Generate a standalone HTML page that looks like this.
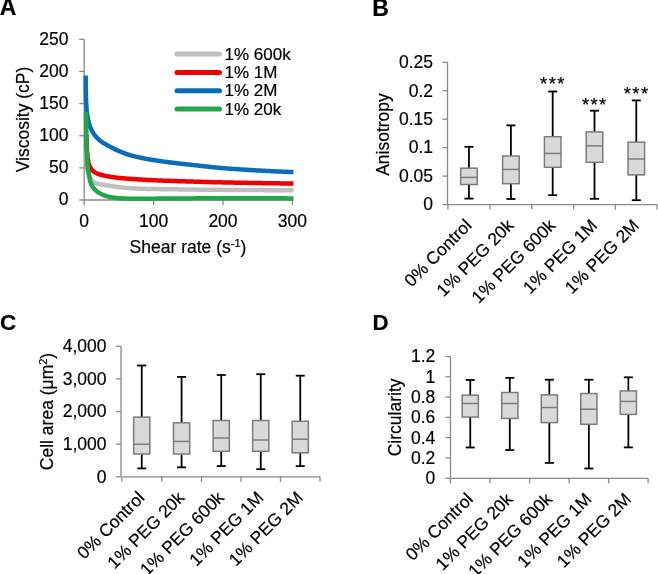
<!DOCTYPE html>
<html><head><meta charset="utf-8"><style>
html,body{margin:0;padding:0;background:#fff;}
svg{display:block;will-change:transform;}
text{font-family:"Liberation Sans",sans-serif;fill:#000;stroke:#000;stroke-width:0.2px;}
</style></head><body>
<svg width="658" height="574" viewBox="0 0 658 574">
<text x="-0.3" y="15.3" text-anchor="start" font-size="23" font-weight="bold" >A</text>
<text x="372.3" y="15.5" text-anchor="start" font-size="23" font-weight="bold" >B</text>
<text x="0" y="330.2" text-anchor="start" font-size="22.5" font-weight="bold" >C</text>
<text x="372.6" y="329.9" text-anchor="start" font-size="22.3" font-weight="bold" >D</text>
<line x1="84.2" y1="39.3" x2="84.2" y2="200.0" stroke="#898989" stroke-width="1.3" />
<line x1="79.2" y1="200.0" x2="84.2" y2="200.0" stroke="#898989" stroke-width="1.3" />
<text x="68.5" y="205.2" text-anchor="end" font-size="17.5" >0</text>
<line x1="79.2" y1="167.86" x2="84.2" y2="167.86" stroke="#898989" stroke-width="1.3" />
<text x="68.5" y="173.06" text-anchor="end" font-size="17.5" >50</text>
<line x1="79.2" y1="135.72" x2="84.2" y2="135.72" stroke="#898989" stroke-width="1.3" />
<text x="68.5" y="140.92" text-anchor="end" font-size="17.5" >100</text>
<line x1="79.2" y1="103.58" x2="84.2" y2="103.58" stroke="#898989" stroke-width="1.3" />
<text x="68.5" y="108.78" text-anchor="end" font-size="17.5" >150</text>
<line x1="79.2" y1="71.44" x2="84.2" y2="71.44" stroke="#898989" stroke-width="1.3" />
<text x="68.5" y="76.64" text-anchor="end" font-size="17.5" >200</text>
<line x1="79.2" y1="39.30000000000001" x2="84.2" y2="39.30000000000001" stroke="#898989" stroke-width="1.3" />
<text x="68.5" y="44.500000000000014" text-anchor="end" font-size="17.5" >250</text>
<line x1="84.2" y1="200.0" x2="292.4" y2="200.0" stroke="#898989" stroke-width="1.3" />
<line x1="84.2" y1="200.0" x2="84.2" y2="205.0" stroke="#898989" stroke-width="1.3" />
<text x="84.2" y="226.5" text-anchor="middle" font-size="17.5" >0</text>
<line x1="153.6" y1="200.0" x2="153.6" y2="205.0" stroke="#898989" stroke-width="1.3" />
<text x="153.6" y="226.5" text-anchor="middle" font-size="17.5" >100</text>
<line x1="223.0" y1="200.0" x2="223.0" y2="205.0" stroke="#898989" stroke-width="1.3" />
<text x="223.0" y="226.5" text-anchor="middle" font-size="17.5" >200</text>
<line x1="292.4" y1="200.0" x2="292.4" y2="205.0" stroke="#898989" stroke-width="1.3" />
<text x="292.4" y="226.5" text-anchor="middle" font-size="17.5" >300</text>
<text x="188" y="252.5" text-anchor="middle" font-size="17.5" >Shear rate (s<tspan dy="-6" font-size="11">-1</tspan><tspan dy="6">)</tspan></text>
<text x="0" y="0" text-anchor="middle" font-size="17.5" transform="translate(29.3,119.5) rotate(-90)">Viscosity (cP)</text>
<path d="M86.50,150.00 L86.50,150.91 L86.51,151.82 L86.53,152.73 L86.55,153.63 L86.58,154.54 L86.61,155.44 L86.65,156.35 L86.70,157.25 L86.74,158.16 L86.79,159.06 L86.85,159.96 L86.91,160.86 L86.97,161.76 L87.03,162.66 L87.09,163.56 L87.16,164.46 L87.23,165.36 L87.31,166.26 L87.41,167.17 L87.52,168.07 L87.64,168.98 L87.79,169.88 L87.94,170.77 L88.11,171.66 L88.29,172.54 L88.48,173.41 L88.70,174.28 L88.96,175.17 L89.27,176.05 L89.62,176.92 L90.00,177.76 L90.42,178.56 L90.87,179.30 L91.36,180.00 L91.97,180.70 L92.65,181.37 L93.38,181.97 L94.15,182.48 L94.91,182.85 L95.70,183.14 L96.52,183.40 L97.38,183.63 L98.26,183.84 L99.15,184.03 L100.07,184.21 L100.99,184.37 L101.91,184.53 L102.83,184.68 L103.75,184.84 L104.65,184.99 L105.54,185.15 L106.43,185.31 L107.32,185.46 L108.21,185.61 L109.10,185.76 L110.00,185.91 L110.89,186.06 L111.78,186.20 L112.68,186.34 L113.58,186.47 L114.47,186.60 L115.37,186.73 L116.27,186.85 L117.16,186.97 L118.06,187.08 L118.96,187.19 L119.86,187.29 L120.76,187.38 L121.66,187.47 L122.56,187.55 L123.46,187.63 L124.36,187.71 L125.26,187.79 L126.16,187.87 L127.06,187.94 L127.96,188.01 L128.87,188.08 L129.77,188.15 L130.67,188.22 L131.58,188.28 L132.48,188.34 L133.38,188.39 L134.29,188.45 L135.19,188.50 L136.09,188.54 L137.00,188.59 L137.90,188.63 L138.81,188.66 L139.71,188.69 L140.61,188.72 L141.52,188.74 L142.42,188.77 L143.32,188.79 L144.23,188.82 L145.13,188.84 L146.04,188.86 L146.94,188.88 L147.84,188.91 L148.75,188.93 L149.65,188.94 L150.56,188.96 L151.46,188.98 L152.37,189.00 L153.27,189.02 L154.18,189.03 L155.08,189.05 L155.98,189.07 L156.89,189.08 L157.79,189.10 L158.70,189.11 L159.60,189.13 L160.51,189.14 L161.41,189.15 L162.32,189.17 L163.22,189.18 L164.13,189.19 L165.03,189.20 L165.94,189.22 L166.84,189.23 L167.75,189.24 L168.65,189.25 L169.56,189.26 L170.46,189.28 L171.37,189.29 L172.27,189.30 L173.18,189.31 L174.08,189.32 L174.99,189.33 L175.89,189.35 L176.80,189.36 L177.70,189.37 L178.61,189.38 L179.51,189.39 L180.42,189.41 L181.32,189.42 L182.22,189.43 L183.13,189.44 L184.03,189.45 L184.94,189.47 L185.84,189.48 L186.75,189.49 L187.65,189.50 L188.56,189.52 L189.46,189.53 L190.37,189.54 L191.27,189.55 L192.18,189.56 L193.08,189.57 L193.98,189.59 L194.89,189.60 L195.79,189.61 L196.70,189.62 L197.60,189.63 L198.51,189.64 L199.41,189.65 L200.32,189.66 L201.22,189.68 L202.13,189.69 L203.03,189.70 L203.94,189.71 L204.84,189.72 L205.75,189.73 L206.65,189.74 L207.55,189.75 L208.46,189.76 L209.36,189.77 L210.27,189.78 L211.17,189.78 L212.08,189.79 L212.98,189.80 L213.89,189.81 L214.79,189.82 L215.70,189.83 L216.60,189.84 L217.51,189.84 L218.41,189.85 L219.32,189.86 L220.22,189.87 L221.12,189.87 L222.03,189.88 L222.93,189.89 L223.84,189.89 L224.74,189.90 L225.65,189.90 L226.55,189.91 L227.46,189.92 L228.36,189.92 L229.27,189.93 L230.17,189.93 L231.08,189.94 L231.98,189.94 L232.89,189.95 L233.79,189.96 L234.69,189.96 L235.60,189.97 L236.50,189.97 L237.41,189.98 L238.31,189.98 L239.22,189.99 L240.12,190.00 L241.03,190.00 L241.93,190.01 L242.84,190.01 L243.74,190.02 L244.65,190.02 L245.55,190.03 L246.46,190.03 L247.36,190.04 L248.26,190.04 L249.17,190.05 L250.07,190.05 L250.98,190.06 L251.88,190.06 L252.79,190.07 L253.69,190.07 L254.60,190.08 L255.50,190.08 L256.41,190.09 L257.31,190.09 L258.22,190.10 L259.12,190.10 L260.03,190.11 L260.93,190.11 L261.84,190.12 L262.74,190.12 L263.64,190.12 L264.55,190.13 L265.45,190.13 L266.36,190.13 L267.26,190.14 L268.17,190.14 L269.07,190.15 L269.98,190.15 L270.88,190.15 L271.79,190.16 L272.69,190.16 L273.60,190.16 L274.50,190.17 L275.41,190.17 L276.31,190.17 L277.22,190.17 L278.12,190.18 L279.02,190.18 L279.93,190.18 L280.83,190.18 L281.74,190.18 L282.64,190.19 L283.55,190.19 L284.45,190.19 L285.36,190.19 L286.26,190.19 L287.17,190.19 L288.07,190.20 L288.98,190.20 L289.88,190.20 L290.79,190.20 L291.69,190.20 L292.60,190.20 L293.50,190.20" fill="none" stroke="#bfbfbf" stroke-width="4.5" stroke-linejoin="round"/>
<path d="M86.50,135.00 L86.50,135.93 L86.51,136.85 L86.52,137.77 L86.54,138.70 L86.56,139.62 L86.59,140.55 L86.62,141.47 L86.65,142.39 L86.68,143.31 L86.72,144.24 L86.76,145.16 L86.80,146.08 L86.85,147.00 L86.89,147.92 L86.94,148.84 L86.99,149.77 L87.04,150.69 L87.09,151.61 L87.16,152.53 L87.23,153.46 L87.31,154.38 L87.40,155.30 L87.50,156.22 L87.61,157.14 L87.72,158.06 L87.85,158.97 L87.98,159.87 L88.13,160.78 L88.33,161.69 L88.55,162.59 L88.81,163.49 L89.09,164.37 L89.39,165.24 L89.71,166.09 L90.08,166.95 L90.50,167.80 L90.97,168.62 L91.48,169.38 L92.03,170.07 L92.67,170.72 L93.39,171.33 L94.16,171.89 L94.94,172.39 L95.73,172.83 L96.56,173.23 L97.41,173.59 L98.29,173.92 L99.17,174.23 L100.05,174.52 L100.93,174.78 L101.82,175.03 L102.72,175.25 L103.62,175.47 L104.52,175.66 L105.42,175.85 L106.33,176.03 L107.23,176.20 L108.14,176.37 L109.05,176.54 L109.96,176.69 L110.88,176.85 L111.79,176.99 L112.70,177.13 L113.62,177.27 L114.53,177.39 L115.45,177.51 L116.36,177.63 L117.28,177.73 L118.19,177.83 L119.11,177.93 L120.03,178.02 L120.95,178.11 L121.87,178.20 L122.79,178.28 L123.71,178.36 L124.63,178.44 L125.55,178.52 L126.47,178.59 L127.39,178.67 L128.31,178.74 L129.23,178.81 L130.15,178.87 L131.08,178.94 L132.00,179.00 L132.92,179.06 L133.84,179.12 L134.76,179.18 L135.68,179.24 L136.60,179.30 L137.53,179.36 L138.45,179.42 L139.37,179.47 L140.29,179.53 L141.21,179.58 L142.13,179.63 L143.06,179.69 L143.98,179.74 L144.90,179.79 L145.82,179.84 L146.74,179.89 L147.67,179.93 L148.59,179.98 L149.51,180.03 L150.43,180.07 L151.36,180.12 L152.28,180.16 L153.20,180.20 L154.12,180.25 L155.05,180.29 L155.97,180.33 L156.89,180.37 L157.81,180.41 L158.74,180.45 L159.66,180.49 L160.58,180.52 L161.50,180.56 L162.43,180.60 L163.35,180.63 L164.27,180.67 L165.19,180.70 L166.12,180.74 L167.04,180.77 L167.96,180.80 L168.88,180.84 L169.81,180.87 L170.73,180.90 L171.65,180.93 L172.57,180.96 L173.50,180.99 L174.42,181.02 L175.34,181.05 L176.27,181.08 L177.19,181.11 L178.11,181.14 L179.03,181.17 L179.96,181.20 L180.88,181.22 L181.80,181.25 L182.73,181.28 L183.65,181.31 L184.57,181.34 L185.50,181.36 L186.42,181.39 L187.34,181.42 L188.26,181.45 L189.19,181.48 L190.11,181.50 L191.03,181.53 L191.96,181.56 L192.88,181.59 L193.80,181.62 L194.72,181.64 L195.65,181.67 L196.57,181.70 L197.49,181.73 L198.42,181.75 L199.34,181.78 L200.26,181.81 L201.18,181.84 L202.11,181.86 L203.03,181.89 L203.95,181.92 L204.88,181.95 L205.80,181.97 L206.72,182.00 L207.65,182.02 L208.57,182.05 L209.49,182.08 L210.41,182.10 L211.34,182.13 L212.26,182.15 L213.18,182.17 L214.11,182.20 L215.03,182.22 L215.95,182.24 L216.88,182.27 L217.80,182.29 L218.72,182.31 L219.64,182.33 L220.57,182.35 L221.49,182.37 L222.41,182.39 L223.34,182.41 L224.26,182.43 L225.18,182.45 L226.11,182.47 L227.03,182.49 L227.95,182.51 L228.88,182.52 L229.80,182.54 L230.72,182.56 L231.64,182.58 L232.57,182.60 L233.49,182.62 L234.41,182.63 L235.34,182.65 L236.26,182.67 L237.18,182.69 L238.11,182.71 L239.03,182.72 L239.95,182.74 L240.88,182.76 L241.80,182.78 L242.72,182.79 L243.64,182.81 L244.57,182.83 L245.49,182.85 L246.41,182.86 L247.34,182.88 L248.26,182.90 L249.18,182.91 L250.11,182.93 L251.03,182.95 L251.95,182.96 L252.88,182.98 L253.80,182.99 L254.72,183.01 L255.65,183.02 L256.57,183.04 L257.49,183.06 L258.42,183.07 L259.34,183.09 L260.26,183.10 L261.19,183.11 L262.11,183.13 L263.03,183.14 L263.95,183.16 L264.88,183.17 L265.80,183.19 L266.72,183.20 L267.65,183.21 L268.57,183.23 L269.49,183.24 L270.42,183.25 L271.34,183.26 L272.26,183.28 L273.19,183.29 L274.11,183.30 L275.03,183.31 L275.96,183.32 L276.88,183.34 L277.80,183.35 L278.73,183.36 L279.65,183.37 L280.57,183.38 L281.50,183.39 L282.42,183.40 L283.34,183.41 L284.27,183.42 L285.19,183.43 L286.11,183.44 L287.04,183.45 L287.96,183.45 L288.88,183.46 L289.81,183.47 L290.73,183.48 L291.65,183.49 L292.58,183.49 L293.50,183.50" fill="none" stroke="#f00000" stroke-width="4.5" stroke-linejoin="round"/>
<path d="M85.70,75.60 L85.70,76.63 L85.70,77.66 L85.71,78.69 L85.71,79.72 L85.72,80.75 L85.72,81.78 L85.73,82.81 L85.74,83.84 L85.75,84.87 L85.76,85.90 L85.78,86.93 L85.79,87.96 L85.80,88.99 L85.82,90.02 L85.83,91.05 L85.85,92.08 L85.87,93.11 L85.89,94.14 L85.90,95.17 L85.92,96.20 L85.95,97.23 L85.98,98.26 L86.02,99.29 L86.06,100.32 L86.11,101.35 L86.16,102.38 L86.21,103.41 L86.27,104.44 L86.33,105.47 L86.40,106.49 L86.47,107.52 L86.54,108.55 L86.63,109.57 L86.73,110.60 L86.84,111.62 L86.97,112.65 L87.10,113.67 L87.25,114.69 L87.40,115.71 L87.56,116.73 L87.73,117.74 L87.92,118.75 L88.13,119.76 L88.36,120.77 L88.61,121.77 L88.87,122.76 L89.16,123.75 L89.48,124.73 L89.82,125.71 L90.18,126.67 L90.55,127.63 L90.95,128.59 L91.37,129.53 L91.82,130.46 L92.29,131.37 L92.80,132.26 L93.35,133.14 L93.92,134.00 L94.53,134.83 L95.15,135.65 L95.80,136.45 L96.47,137.24 L97.17,138.00 L97.90,138.74 L98.64,139.44 L99.42,140.10 L100.22,140.74 L101.06,141.35 L101.91,141.95 L102.77,142.52 L103.63,143.08 L104.50,143.63 L105.39,144.15 L106.29,144.66 L107.19,145.16 L108.10,145.65 L109.01,146.14 L109.91,146.62 L110.82,147.11 L111.74,147.59 L112.65,148.07 L113.57,148.54 L114.49,149.01 L115.42,149.46 L116.35,149.90 L117.29,150.33 L118.22,150.74 L119.17,151.14 L120.12,151.53 L121.07,151.92 L122.03,152.31 L122.99,152.68 L123.96,153.06 L124.93,153.42 L125.90,153.77 L126.87,154.11 L127.85,154.45 L128.83,154.76 L129.82,155.07 L130.80,155.36 L131.79,155.64 L132.78,155.91 L133.77,156.16 L134.76,156.41 L135.76,156.66 L136.76,156.89 L137.77,157.12 L138.78,157.34 L139.78,157.56 L140.79,157.77 L141.81,157.98 L142.82,158.18 L143.83,158.38 L144.85,158.57 L145.86,158.76 L146.88,158.95 L147.89,159.13 L148.91,159.31 L149.92,159.49 L150.94,159.66 L151.95,159.83 L152.97,160.00 L153.98,160.16 L155.00,160.32 L156.02,160.47 L157.04,160.63 L158.06,160.78 L159.08,160.93 L160.10,161.07 L161.12,161.22 L162.14,161.36 L163.16,161.50 L164.18,161.64 L165.20,161.77 L166.23,161.91 L167.25,162.04 L168.27,162.18 L169.29,162.31 L170.31,162.44 L171.33,162.57 L172.36,162.70 L173.38,162.82 L174.40,162.95 L175.42,163.07 L176.45,163.19 L177.47,163.31 L178.49,163.43 L179.52,163.54 L180.54,163.66 L181.56,163.77 L182.59,163.89 L183.61,164.00 L184.64,164.11 L185.66,164.23 L186.68,164.34 L187.71,164.45 L188.73,164.56 L189.76,164.67 L190.78,164.79 L191.80,164.90 L192.83,165.01 L193.85,165.13 L194.88,165.24 L195.90,165.35 L196.92,165.47 L197.95,165.58 L198.97,165.70 L200.00,165.81 L201.02,165.93 L202.04,166.04 L203.07,166.15 L204.09,166.26 L205.12,166.38 L206.14,166.49 L207.16,166.60 L208.19,166.71 L209.21,166.81 L210.24,166.92 L211.26,167.03 L212.29,167.13 L213.31,167.23 L214.34,167.34 L215.36,167.44 L216.39,167.53 L217.41,167.63 L218.44,167.72 L219.46,167.82 L220.49,167.91 L221.52,167.99 L222.54,168.08 L223.57,168.16 L224.59,168.24 L225.62,168.33 L226.65,168.41 L227.67,168.49 L228.70,168.57 L229.73,168.64 L230.76,168.72 L231.78,168.80 L232.81,168.87 L233.84,168.95 L234.87,169.02 L235.89,169.09 L236.92,169.16 L237.95,169.23 L238.98,169.30 L240.00,169.37 L241.03,169.44 L242.06,169.51 L243.09,169.58 L244.12,169.64 L245.14,169.71 L246.17,169.77 L247.20,169.84 L248.23,169.90 L249.26,169.96 L250.29,170.03 L251.31,170.09 L252.34,170.15 L253.37,170.21 L254.40,170.27 L255.43,170.33 L256.46,170.38 L257.49,170.44 L258.51,170.50 L259.54,170.55 L260.57,170.61 L261.60,170.66 L262.63,170.72 L263.66,170.77 L264.69,170.83 L265.71,170.88 L266.74,170.93 L267.77,170.98 L268.80,171.04 L269.83,171.09 L270.86,171.14 L271.89,171.19 L272.92,171.24 L273.94,171.29 L274.97,171.33 L276.00,171.38 L277.03,171.43 L278.06,171.48 L279.09,171.52 L280.12,171.57 L281.15,171.61 L282.18,171.66 L283.21,171.70 L284.24,171.74 L285.26,171.79 L286.29,171.83 L287.32,171.87 L288.35,171.91 L289.38,171.95 L290.41,171.99 L291.44,172.03 L292.47,172.06 L293.50,172.10" fill="none" stroke="#0b6cba" stroke-width="4.5" stroke-linejoin="round"/>
<path d="M86.10,112.00 L86.10,113.08 L86.11,114.16 L86.12,115.24 L86.12,116.32 L86.13,117.40 L86.14,118.48 L86.16,119.56 L86.17,120.64 L86.18,121.72 L86.19,122.80 L86.21,123.88 L86.23,124.96 L86.24,126.04 L86.26,127.12 L86.28,128.20 L86.30,129.28 L86.31,130.36 L86.33,131.44 L86.35,132.52 L86.37,133.60 L86.39,134.68 L86.42,135.76 L86.44,136.84 L86.46,137.92 L86.48,139.00 L86.50,140.08 L86.52,141.16 L86.55,142.24 L86.57,143.32 L86.60,144.40 L86.63,145.48 L86.66,146.56 L86.69,147.64 L86.73,148.72 L86.76,149.80 L86.80,150.88 L86.84,151.96 L86.88,153.04 L86.92,154.11 L86.97,155.19 L87.01,156.27 L87.06,157.35 L87.11,158.43 L87.17,159.51 L87.23,160.59 L87.29,161.67 L87.36,162.75 L87.44,163.83 L87.52,164.90 L87.61,165.98 L87.71,167.05 L87.81,168.13 L87.94,169.19 L88.10,170.26 L88.28,171.33 L88.48,172.39 L88.69,173.45 L88.90,174.51 L89.11,175.57 L89.32,176.64 L89.52,177.72 L89.72,178.79 L89.93,179.87 L90.17,180.93 L90.43,181.97 L90.73,182.98 L91.08,183.97 L91.52,184.95 L92.06,185.91 L92.66,186.85 L93.30,187.73 L93.97,188.56 L94.67,189.34 L95.45,190.09 L96.28,190.81 L97.15,191.48 L98.05,192.12 L98.95,192.71 L99.86,193.25 L100.81,193.77 L101.78,194.26 L102.77,194.72 L103.78,195.14 L104.79,195.52 L105.80,195.88 L106.83,196.21 L107.87,196.51 L108.93,196.78 L109.98,197.00 L111.04,197.18 L112.10,197.35 L113.17,197.52 L114.24,197.67 L115.31,197.81 L116.39,197.95 L117.46,198.06 L118.54,198.17 L119.62,198.26 L120.70,198.34 L121.78,198.40 L122.85,198.45 L123.93,198.50 L125.01,198.55 L126.09,198.59 L127.17,198.64 L128.25,198.68 L129.33,198.71 L130.41,198.74 L131.49,198.76 L132.57,198.78 L133.65,198.79 L134.73,198.80 L135.81,198.80 L136.89,198.80 L137.97,198.79 L139.05,198.79 L140.13,198.78 L141.21,198.78 L142.29,198.77 L143.37,198.76 L144.45,198.75 L145.53,198.74 L146.61,198.73 L147.69,198.72 L148.77,198.71 L149.85,198.69 L150.93,198.68 L152.01,198.67 L153.09,198.66 L154.17,198.65 L155.25,198.64 L156.33,198.63 L157.41,198.62 L158.49,198.61 L159.57,198.60 L160.65,198.60 L161.73,198.59 L162.81,198.58 L163.89,198.57 L164.97,198.57 L166.05,198.56 L167.13,198.55 L168.21,198.55 L169.29,198.54 L170.37,198.53 L171.45,198.52 L172.53,198.52 L173.61,198.51 L174.69,198.50 L175.77,198.49 L176.85,198.49 L177.93,198.48 L179.01,198.47 L180.09,198.47 L181.17,198.46 L182.25,198.45 L183.33,198.44 L184.41,198.44 L185.49,198.43 L186.57,198.42 L187.65,198.42 L188.73,198.41 L189.81,198.40 L190.89,198.40 L191.97,198.39 L193.05,198.38 L194.13,198.38 L195.21,198.37 L196.29,198.37 L197.37,198.36 L198.45,198.36 L199.53,198.35 L200.61,198.35 L201.69,198.34 L202.77,198.34 L203.85,198.33 L204.93,198.33 L206.01,198.33 L207.09,198.32 L208.17,198.32 L209.25,198.32 L210.33,198.31 L211.41,198.31 L212.50,198.31 L213.58,198.31 L214.66,198.30 L215.74,198.30 L216.82,198.30 L217.90,198.30 L218.98,198.30 L220.06,198.30 L221.14,198.30 L222.22,198.30 L223.30,198.30 L224.38,198.30 L225.46,198.30 L226.54,198.30 L227.62,198.30 L228.70,198.30 L229.78,198.30 L230.86,198.30 L231.94,198.30 L233.02,198.30 L234.10,198.30 L235.18,198.30 L236.26,198.30 L237.34,198.30 L238.42,198.30 L239.50,198.30 L240.58,198.30 L241.66,198.30 L242.74,198.30 L243.82,198.30 L244.90,198.30 L245.98,198.30 L247.06,198.30 L248.14,198.31 L249.22,198.31 L250.30,198.31 L251.38,198.31 L252.46,198.31 L253.54,198.31 L254.62,198.31 L255.70,198.31 L256.78,198.31 L257.86,198.31 L258.94,198.31 L260.02,198.32 L261.10,198.32 L262.18,198.32 L263.26,198.32 L264.34,198.32 L265.42,198.32 L266.50,198.33 L267.58,198.33 L268.66,198.33 L269.74,198.33 L270.82,198.33 L271.90,198.34 L272.98,198.34 L274.06,198.34 L275.14,198.34 L276.22,198.34 L277.30,198.35 L278.38,198.35 L279.46,198.35 L280.54,198.36 L281.62,198.36 L282.70,198.36 L283.78,198.37 L284.86,198.37 L285.94,198.37 L287.02,198.38 L288.10,198.38 L289.18,198.38 L290.26,198.39 L291.34,198.39 L292.42,198.40 L293.50,198.40" fill="none" stroke="#22a64a" stroke-width="4.5" stroke-linejoin="round"/>
<line x1="177" y1="54.1" x2="219.5" y2="54.1" stroke="#bfbfbf" stroke-width="5" stroke-linecap="round"/>
<text x="224.5" y="59.6" text-anchor="start" font-size="17" >1% 600k</text>
<line x1="177" y1="72.4" x2="219.5" y2="72.4" stroke="#f00000" stroke-width="5" stroke-linecap="round"/>
<text x="224.5" y="77.9" text-anchor="start" font-size="17" >1% 1M</text>
<line x1="177" y1="90.7" x2="219.5" y2="90.7" stroke="#0b6cba" stroke-width="5" stroke-linecap="round"/>
<text x="224.5" y="96.2" text-anchor="start" font-size="17" >1% 2M</text>
<line x1="177" y1="109.0" x2="219.5" y2="109.0" stroke="#22a64a" stroke-width="5" stroke-linecap="round"/>
<text x="224.5" y="114.5" text-anchor="start" font-size="17" >1% 20k</text>
<line x1="447.5" y1="62.3" x2="447.5" y2="204.6" stroke="#898989" stroke-width="1.3" />
<line x1="442.5" y1="204.6" x2="447.5" y2="204.6" stroke="#898989" stroke-width="1.3" />
<text x="433.0" y="210.4" text-anchor="end" font-size="17.5" >0</text>
<line x1="442.5" y1="176.14" x2="447.5" y2="176.14" stroke="#898989" stroke-width="1.3" />
<text x="433.0" y="181.94" text-anchor="end" font-size="17.5" >0.05</text>
<line x1="442.5" y1="147.68" x2="447.5" y2="147.68" stroke="#898989" stroke-width="1.3" />
<text x="433.0" y="153.48000000000002" text-anchor="end" font-size="17.5" >0.1</text>
<line x1="442.5" y1="119.22" x2="447.5" y2="119.22" stroke="#898989" stroke-width="1.3" />
<text x="433.0" y="125.02" text-anchor="end" font-size="17.5" >0.15</text>
<line x1="442.5" y1="90.75999999999999" x2="447.5" y2="90.75999999999999" stroke="#898989" stroke-width="1.3" />
<text x="433.0" y="96.55999999999999" text-anchor="end" font-size="17.5" >0.2</text>
<line x1="442.5" y1="62.29999999999998" x2="447.5" y2="62.29999999999998" stroke="#898989" stroke-width="1.3" />
<text x="433.0" y="68.09999999999998" text-anchor="end" font-size="17.5" >0.25</text>
<line x1="447.9" y1="204.6" x2="657.2" y2="204.6" stroke="#898989" stroke-width="1.3" />
<line x1="447.9" y1="204.6" x2="447.9" y2="209.6" stroke="#898989" stroke-width="1.3" />
<line x1="490" y1="204.6" x2="490" y2="209.6" stroke="#898989" stroke-width="1.3" />
<line x1="531.8" y1="204.6" x2="531.8" y2="209.6" stroke="#898989" stroke-width="1.3" />
<line x1="573.6" y1="204.6" x2="573.6" y2="209.6" stroke="#898989" stroke-width="1.3" />
<line x1="615.4" y1="204.6" x2="615.4" y2="209.6" stroke="#898989" stroke-width="1.3" />
<line x1="657.2" y1="204.6" x2="657.2" y2="209.6" stroke="#898989" stroke-width="1.3" />
<line x1="468.95" y1="146.8" x2="468.95" y2="168.2" stroke="#000" stroke-width="1.8" />
<line x1="468.95" y1="184.5" x2="468.95" y2="198.6" stroke="#000" stroke-width="1.8" />
<line x1="464.45" y1="146.8" x2="473.45" y2="146.8" stroke="#000" stroke-width="1.8" />
<line x1="464.45" y1="198.6" x2="473.45" y2="198.6" stroke="#000" stroke-width="1.8" />
<rect x="460.65" y="168.2" width="16.6" height="16.30000000000001" fill="#d9d9d9" stroke="#7c7c7c" stroke-width="1.5"/>
<line x1="460.65" y1="177.4" x2="477.25" y2="177.4" stroke="#7c7c7c" stroke-width="1.5" />
<text x="0" y="0" text-anchor="end" font-size="17.5" transform="translate(472.75,226.6) rotate(-45)">0% Control</text>
<line x1="510.9" y1="125.4" x2="510.9" y2="156" stroke="#000" stroke-width="1.8" />
<line x1="510.9" y1="183.7" x2="510.9" y2="199" stroke="#000" stroke-width="1.8" />
<line x1="506.4" y1="125.4" x2="515.4" y2="125.4" stroke="#000" stroke-width="1.8" />
<line x1="506.4" y1="199" x2="515.4" y2="199" stroke="#000" stroke-width="1.8" />
<rect x="502.59999999999997" y="156" width="16.6" height="27.69999999999999" fill="#d9d9d9" stroke="#7c7c7c" stroke-width="1.5"/>
<line x1="502.59999999999997" y1="169.4" x2="519.1999999999999" y2="169.4" stroke="#7c7c7c" stroke-width="1.5" />
<text x="0" y="0" text-anchor="end" font-size="17.5" transform="translate(514.6999999999999,226.6) rotate(-45)">1% PEG 20k</text>
<line x1="552.7" y1="91.5" x2="552.7" y2="136.7" stroke="#000" stroke-width="1.8" />
<line x1="552.7" y1="167.3" x2="552.7" y2="195.2" stroke="#000" stroke-width="1.8" />
<line x1="548.2" y1="91.5" x2="557.2" y2="91.5" stroke="#000" stroke-width="1.8" />
<line x1="548.2" y1="195.2" x2="557.2" y2="195.2" stroke="#000" stroke-width="1.8" />
<rect x="544.4000000000001" y="136.7" width="16.6" height="30.600000000000023" fill="#d9d9d9" stroke="#7c7c7c" stroke-width="1.5"/>
<line x1="544.4000000000001" y1="153.4" x2="561.0" y2="153.4" stroke="#7c7c7c" stroke-width="1.5" />
<text x="0" y="0" text-anchor="end" font-size="17.5" transform="translate(556.5,226.6) rotate(-45)">1% PEG 600k</text>
<text x="553.0" y="89.8" text-anchor="middle" font-size="18.5" letter-spacing="1.4">***</text>
<line x1="594.5" y1="110.7" x2="594.5" y2="131.9" stroke="#000" stroke-width="1.8" />
<line x1="594.5" y1="162.3" x2="594.5" y2="198.8" stroke="#000" stroke-width="1.8" />
<line x1="590.0" y1="110.7" x2="599.0" y2="110.7" stroke="#000" stroke-width="1.8" />
<line x1="590.0" y1="198.8" x2="599.0" y2="198.8" stroke="#000" stroke-width="1.8" />
<rect x="586.2" y="131.9" width="16.6" height="30.400000000000006" fill="#d9d9d9" stroke="#7c7c7c" stroke-width="1.5"/>
<line x1="586.2" y1="145.9" x2="602.8" y2="145.9" stroke="#7c7c7c" stroke-width="1.5" />
<text x="0" y="0" text-anchor="end" font-size="17.5" transform="translate(598.3,226.6) rotate(-45)">1% PEG 1M</text>
<text x="594.8" y="110.8" text-anchor="middle" font-size="18.5" letter-spacing="1.4">***</text>
<line x1="636.3" y1="100.4" x2="636.3" y2="142.2" stroke="#000" stroke-width="1.8" />
<line x1="636.3" y1="174.9" x2="636.3" y2="200.2" stroke="#000" stroke-width="1.8" />
<line x1="631.8" y1="100.4" x2="640.8" y2="100.4" stroke="#000" stroke-width="1.8" />
<line x1="631.8" y1="200.2" x2="640.8" y2="200.2" stroke="#000" stroke-width="1.8" />
<rect x="628.0" y="142.2" width="16.6" height="32.70000000000002" fill="#d9d9d9" stroke="#7c7c7c" stroke-width="1.5"/>
<line x1="628.0" y1="159" x2="644.5999999999999" y2="159" stroke="#7c7c7c" stroke-width="1.5" />
<text x="0" y="0" text-anchor="end" font-size="17.5" transform="translate(640.0999999999999,226.6) rotate(-45)">1% PEG 2M</text>
<text x="636.5999999999999" y="100.3" text-anchor="middle" font-size="18.5" letter-spacing="1.4">***</text>
<text x="0" y="0" text-anchor="middle" font-size="17.5" transform="translate(389.3,134.5) rotate(-90)">Anisotropy</text>
<line x1="121" y1="346.3" x2="121" y2="476.8" stroke="#898989" stroke-width="1.3" />
<line x1="116" y1="476.8" x2="121" y2="476.8" stroke="#898989" stroke-width="1.3" />
<text x="106.5" y="482.6" text-anchor="end" font-size="17.5" >0</text>
<line x1="116" y1="444.175" x2="121" y2="444.175" stroke="#898989" stroke-width="1.3" />
<text x="106.5" y="449.975" text-anchor="end" font-size="17.5" >1,000</text>
<line x1="116" y1="411.55" x2="121" y2="411.55" stroke="#898989" stroke-width="1.3" />
<text x="106.5" y="417.35" text-anchor="end" font-size="17.5" >2,000</text>
<line x1="116" y1="378.925" x2="121" y2="378.925" stroke="#898989" stroke-width="1.3" />
<text x="106.5" y="384.725" text-anchor="end" font-size="17.5" >3,000</text>
<line x1="116" y1="346.3" x2="121" y2="346.3" stroke="#898989" stroke-width="1.3" />
<text x="106.5" y="352.1" text-anchor="end" font-size="17.5" >4,000</text>
<line x1="121.8" y1="476.8" x2="320" y2="476.8" stroke="#898989" stroke-width="1.3" />
<line x1="121.8" y1="476.8" x2="121.8" y2="481.8" stroke="#898989" stroke-width="1.3" />
<line x1="161.7" y1="476.8" x2="161.7" y2="481.8" stroke="#898989" stroke-width="1.3" />
<line x1="201.5" y1="476.8" x2="201.5" y2="481.8" stroke="#898989" stroke-width="1.3" />
<line x1="241.0" y1="476.8" x2="241.0" y2="481.8" stroke="#898989" stroke-width="1.3" />
<line x1="280.5" y1="476.8" x2="280.5" y2="481.8" stroke="#898989" stroke-width="1.3" />
<line x1="320" y1="476.8" x2="320" y2="481.8" stroke="#898989" stroke-width="1.3" />
<line x1="141.75" y1="365.5" x2="141.75" y2="417.1" stroke="#000" stroke-width="1.8" />
<line x1="141.75" y1="454" x2="141.75" y2="468.4" stroke="#000" stroke-width="1.8" />
<line x1="137.25" y1="365.5" x2="146.25" y2="365.5" stroke="#000" stroke-width="1.8" />
<line x1="137.25" y1="468.4" x2="146.25" y2="468.4" stroke="#000" stroke-width="1.8" />
<rect x="133.65" y="417.1" width="16.2" height="36.89999999999998" fill="#d9d9d9" stroke="#7c7c7c" stroke-width="1.5"/>
<line x1="133.65" y1="444.2" x2="149.85" y2="444.2" stroke="#7c7c7c" stroke-width="1.5" />
<text x="0" y="0" text-anchor="end" font-size="17.5" transform="translate(145.55,498.8) rotate(-45)">0% Control</text>
<line x1="181.6" y1="376.9" x2="181.6" y2="422.8" stroke="#000" stroke-width="1.8" />
<line x1="181.6" y1="454" x2="181.6" y2="467.3" stroke="#000" stroke-width="1.8" />
<line x1="177.1" y1="376.9" x2="186.1" y2="376.9" stroke="#000" stroke-width="1.8" />
<line x1="177.1" y1="467.3" x2="186.1" y2="467.3" stroke="#000" stroke-width="1.8" />
<rect x="173.5" y="422.8" width="16.2" height="31.19999999999999" fill="#d9d9d9" stroke="#7c7c7c" stroke-width="1.5"/>
<line x1="173.5" y1="441.4" x2="189.7" y2="441.4" stroke="#7c7c7c" stroke-width="1.5" />
<text x="0" y="0" text-anchor="end" font-size="17.5" transform="translate(185.4,498.8) rotate(-45)">1% PEG 20k</text>
<line x1="221.25" y1="375" x2="221.25" y2="420.5" stroke="#000" stroke-width="1.8" />
<line x1="221.25" y1="451.3" x2="221.25" y2="466.1" stroke="#000" stroke-width="1.8" />
<line x1="216.75" y1="375" x2="225.75" y2="375" stroke="#000" stroke-width="1.8" />
<line x1="216.75" y1="466.1" x2="225.75" y2="466.1" stroke="#000" stroke-width="1.8" />
<rect x="213.15" y="420.5" width="16.2" height="30.80000000000001" fill="#d9d9d9" stroke="#7c7c7c" stroke-width="1.5"/>
<line x1="213.15" y1="438" x2="229.35" y2="438" stroke="#7c7c7c" stroke-width="1.5" />
<text x="0" y="0" text-anchor="end" font-size="17.5" transform="translate(225.05,498.8) rotate(-45)">1% PEG 600k</text>
<line x1="260.75" y1="374.2" x2="260.75" y2="420.5" stroke="#000" stroke-width="1.8" />
<line x1="260.75" y1="451.3" x2="260.75" y2="469.2" stroke="#000" stroke-width="1.8" />
<line x1="256.25" y1="374.2" x2="265.25" y2="374.2" stroke="#000" stroke-width="1.8" />
<line x1="256.25" y1="469.2" x2="265.25" y2="469.2" stroke="#000" stroke-width="1.8" />
<rect x="252.65" y="420.5" width="16.2" height="30.80000000000001" fill="#d9d9d9" stroke="#7c7c7c" stroke-width="1.5"/>
<line x1="252.65" y1="440" x2="268.85" y2="440" stroke="#7c7c7c" stroke-width="1.5" />
<text x="0" y="0" text-anchor="end" font-size="17.5" transform="translate(264.55,498.8) rotate(-45)">1% PEG 1M</text>
<line x1="300.25" y1="375.7" x2="300.25" y2="421.3" stroke="#000" stroke-width="1.8" />
<line x1="300.25" y1="452.8" x2="300.25" y2="466.1" stroke="#000" stroke-width="1.8" />
<line x1="295.75" y1="375.7" x2="304.75" y2="375.7" stroke="#000" stroke-width="1.8" />
<line x1="295.75" y1="466.1" x2="304.75" y2="466.1" stroke="#000" stroke-width="1.8" />
<rect x="292.15" y="421.3" width="16.2" height="31.5" fill="#d9d9d9" stroke="#7c7c7c" stroke-width="1.5"/>
<line x1="292.15" y1="439.2" x2="308.35" y2="439.2" stroke="#7c7c7c" stroke-width="1.5" />
<text x="0" y="0" text-anchor="end" font-size="17.5" transform="translate(304.05,498.8) rotate(-45)">1% PEG 2M</text>
<text x="0" y="0" text-anchor="middle" font-size="17.5" transform="translate(53,411.5) rotate(-90)">Cell area (&#956;m<tspan dy="-6" font-size="11">2</tspan><tspan dy="6">)</tspan></text>
<line x1="450.5" y1="356.5" x2="450.5" y2="478.3" stroke="#898989" stroke-width="1.3" />
<line x1="445.5" y1="478.3" x2="450.5" y2="478.3" stroke="#898989" stroke-width="1.3" />
<text x="435.3" y="484.1" text-anchor="end" font-size="17.5" >0</text>
<line x1="445.5" y1="458.0" x2="450.5" y2="458.0" stroke="#898989" stroke-width="1.3" />
<text x="435.3" y="463.8" text-anchor="end" font-size="17.5" >0.2</text>
<line x1="445.5" y1="437.7" x2="450.5" y2="437.7" stroke="#898989" stroke-width="1.3" />
<text x="435.3" y="443.5" text-anchor="end" font-size="17.5" >0.4</text>
<line x1="445.5" y1="417.4" x2="450.5" y2="417.4" stroke="#898989" stroke-width="1.3" />
<text x="435.3" y="423.2" text-anchor="end" font-size="17.5" >0.6</text>
<line x1="445.5" y1="397.1" x2="450.5" y2="397.1" stroke="#898989" stroke-width="1.3" />
<text x="435.3" y="402.90000000000003" text-anchor="end" font-size="17.5" >0.8</text>
<line x1="445.5" y1="376.8" x2="450.5" y2="376.8" stroke="#898989" stroke-width="1.3" />
<text x="435.3" y="382.6" text-anchor="end" font-size="17.5" >1</text>
<line x1="445.5" y1="356.5" x2="450.5" y2="356.5" stroke="#898989" stroke-width="1.3" />
<text x="435.3" y="362.3" text-anchor="end" font-size="17.5" >1.2</text>
<line x1="450.5" y1="478.3" x2="648.1" y2="478.3" stroke="#898989" stroke-width="1.3" />
<line x1="450.5" y1="478.3" x2="450.5" y2="483.3" stroke="#898989" stroke-width="1.3" />
<line x1="490.0" y1="478.3" x2="490.0" y2="483.3" stroke="#898989" stroke-width="1.3" />
<line x1="529.6" y1="478.3" x2="529.6" y2="483.3" stroke="#898989" stroke-width="1.3" />
<line x1="569.1" y1="478.3" x2="569.1" y2="483.3" stroke="#898989" stroke-width="1.3" />
<line x1="608.6" y1="478.3" x2="608.6" y2="483.3" stroke="#898989" stroke-width="1.3" />
<line x1="648.1" y1="478.3" x2="648.1" y2="483.3" stroke="#898989" stroke-width="1.3" />
<line x1="470.25" y1="380" x2="470.25" y2="395.2" stroke="#000" stroke-width="1.8" />
<line x1="470.25" y1="417.1" x2="470.25" y2="447.5" stroke="#000" stroke-width="1.8" />
<line x1="465.75" y1="380" x2="474.75" y2="380" stroke="#000" stroke-width="1.8" />
<line x1="465.75" y1="447.5" x2="474.75" y2="447.5" stroke="#000" stroke-width="1.8" />
<rect x="462.15" y="395.2" width="16.2" height="21.900000000000034" fill="#d9d9d9" stroke="#7c7c7c" stroke-width="1.5"/>
<line x1="462.15" y1="403.5" x2="478.35" y2="403.5" stroke="#7c7c7c" stroke-width="1.5" />
<text x="0" y="0" text-anchor="end" font-size="17.5" transform="translate(474.05,500.3) rotate(-45)">0% Control</text>
<line x1="509.8" y1="377.9" x2="509.8" y2="392.5" stroke="#000" stroke-width="1.8" />
<line x1="509.8" y1="418.4" x2="509.8" y2="450.1" stroke="#000" stroke-width="1.8" />
<line x1="505.3" y1="377.9" x2="514.3" y2="377.9" stroke="#000" stroke-width="1.8" />
<line x1="505.3" y1="450.1" x2="514.3" y2="450.1" stroke="#000" stroke-width="1.8" />
<rect x="501.7" y="392.5" width="16.2" height="25.899999999999977" fill="#d9d9d9" stroke="#7c7c7c" stroke-width="1.5"/>
<line x1="501.7" y1="403.5" x2="517.9" y2="403.5" stroke="#7c7c7c" stroke-width="1.5" />
<text x="0" y="0" text-anchor="end" font-size="17.5" transform="translate(513.6,500.3) rotate(-45)">1% PEG 20k</text>
<line x1="549.35" y1="379.7" x2="549.35" y2="394.9" stroke="#000" stroke-width="1.8" />
<line x1="549.35" y1="422.6" x2="549.35" y2="462.9" stroke="#000" stroke-width="1.8" />
<line x1="544.85" y1="379.7" x2="553.85" y2="379.7" stroke="#000" stroke-width="1.8" />
<line x1="544.85" y1="462.9" x2="553.85" y2="462.9" stroke="#000" stroke-width="1.8" />
<rect x="541.25" y="394.9" width="16.2" height="27.700000000000045" fill="#d9d9d9" stroke="#7c7c7c" stroke-width="1.5"/>
<line x1="541.25" y1="407.5" x2="557.45" y2="407.5" stroke="#7c7c7c" stroke-width="1.5" />
<text x="0" y="0" text-anchor="end" font-size="17.5" transform="translate(553.15,500.3) rotate(-45)">1% PEG 600k</text>
<line x1="588.85" y1="379.7" x2="588.85" y2="393.5" stroke="#000" stroke-width="1.8" />
<line x1="588.85" y1="424.3" x2="588.85" y2="468.5" stroke="#000" stroke-width="1.8" />
<line x1="584.35" y1="379.7" x2="593.35" y2="379.7" stroke="#000" stroke-width="1.8" />
<line x1="584.35" y1="468.5" x2="593.35" y2="468.5" stroke="#000" stroke-width="1.8" />
<rect x="580.75" y="393.5" width="16.2" height="30.80000000000001" fill="#d9d9d9" stroke="#7c7c7c" stroke-width="1.5"/>
<line x1="580.75" y1="409.2" x2="596.95" y2="409.2" stroke="#7c7c7c" stroke-width="1.5" />
<text x="0" y="0" text-anchor="end" font-size="17.5" transform="translate(592.65,500.3) rotate(-45)">1% PEG 1M</text>
<line x1="628.35" y1="377.3" x2="628.35" y2="390.9" stroke="#000" stroke-width="1.8" />
<line x1="628.35" y1="414.4" x2="628.35" y2="447.4" stroke="#000" stroke-width="1.8" />
<line x1="623.85" y1="377.3" x2="632.85" y2="377.3" stroke="#000" stroke-width="1.8" />
<line x1="623.85" y1="447.4" x2="632.85" y2="447.4" stroke="#000" stroke-width="1.8" />
<rect x="620.25" y="390.9" width="16.2" height="23.5" fill="#d9d9d9" stroke="#7c7c7c" stroke-width="1.5"/>
<line x1="620.25" y1="401.4" x2="636.45" y2="401.4" stroke="#7c7c7c" stroke-width="1.5" />
<text x="0" y="0" text-anchor="end" font-size="17.5" transform="translate(632.15,500.3) rotate(-45)">1% PEG 2M</text>
<text x="0" y="0" text-anchor="middle" font-size="17.5" transform="translate(400.8,417.4) rotate(-90)">Circularity</text>
</svg>
</body></html>
